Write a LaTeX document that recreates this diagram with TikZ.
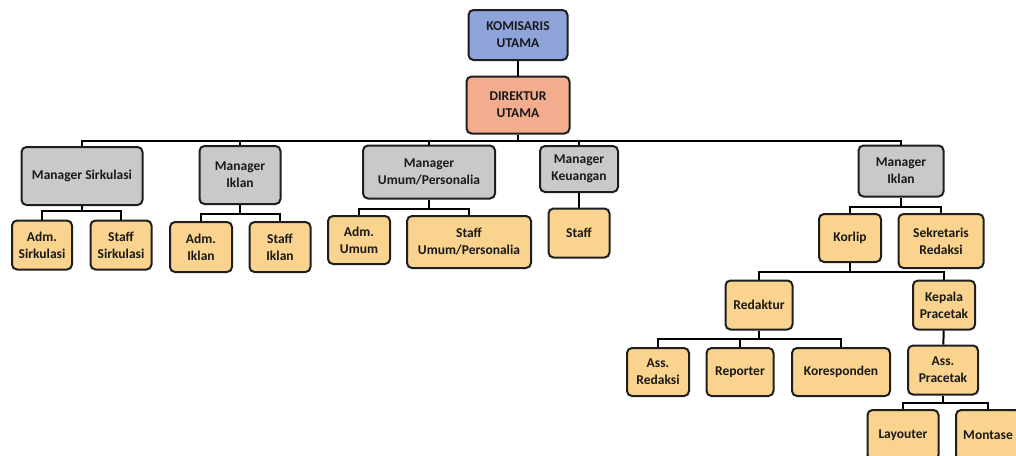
\documentclass[tikz,border=0pt]{standalone}
\usepackage{fontspec}
\setmainfont{Carlito}
\usepackage{tikz}
\usetikzlibrary{calc}
\definecolor{komblue}{HTML}{8EA3DA}
\definecolor{dirsalmon}{HTML}{F4AC8E}
\definecolor{mgrgray}{HTML}{C9C9C9}
\definecolor{stfyellow}{HTML}{FAD38E}
\definecolor{edgedark}{HTML}{1E1E1E}

\begin{document}
\begin{tikzpicture}[x=1pt, y=-1pt,
  every node/.style={inner sep=1.5pt},
  orgbox/.style={draw=edgedark, line width=2pt, rounded corners=5pt, align=center,
    font=\fontsize{13.5}{17}\selectfont\bfseries, text=black!90},
  kom/.style={orgbox, fill=komblue},
  dir/.style={orgbox, fill=dirsalmon},
  mgr/.style={orgbox, fill=mgrgray},
  stf/.style={orgbox, fill=stfyellow},
  link/.style={line width=2pt, draw=black}]
  \fill[white] (0,0) rectangle (1016,455);
  \clip (0,0) rectangle (1016,455);
  \node[kom, minimum width=99pt, minimum height=50pt] (ku) at (518,35) {KOMISARIS\\UTAMA};
  \node[dir, minimum width=103pt, minimum height=57pt] (du) at (518,105) {DIREKTUR\\UTAMA};
  \node[mgr, minimum width=121pt, minimum height=58pt] (ms) at (82,176) {Manager Sirkulasi};
  \node[mgr, minimum width=81pt, minimum height=58pt] (mi) at (240,175) {Manager\\Iklan};
  \node[mgr, minimum width=132pt, minimum height=53pt] (mu) at (429,172) {Manager\\Umum/Personalia};
  \node[mgr, minimum width=78pt, minimum height=46pt] (mk) at (579,169) {Manager\\Keuangan};
  \node[mgr, minimum width=85pt, minimum height=51pt] (mr) at (901,171) {Manager\\Iklan};
  \node[stf, minimum width=60pt, minimum height=49pt] (as) at (42,245) {Adm.\\Sirkulasi};
  \node[stf, minimum width=61pt, minimum height=49pt] (ss) at (121,245) {Staff\\Sirkulasi};
  \node[stf, minimum width=62pt, minimum height=50pt] (ai) at (201,247) {Adm.\\Iklan};
  \node[stf, minimum width=61pt, minimum height=50pt] (si) at (280,247) {Staff\\Iklan};
  \node[stf, minimum width=62pt, minimum height=48pt] (au) at (359,240) {Adm.\\Umum};
  \node[stf, minimum width=124pt, minimum height=52pt] (su) at (469,242) {Staff\\Umum/Personalia};
  \node[stf, minimum width=61pt, minimum height=49pt] (sk) at (579,233) {Staff};
  \node[stf, minimum width=62pt, minimum height=48pt] (ko) at (850,238) {Korlip};
  \node[stf, minimum width=85pt, minimum height=54pt] (sr) at (941,241) {Sekretaris\\Redaksi};
  \node[stf, minimum width=67pt, minimum height=49pt] (re) at (759,305) {Redaktur};
  \node[stf, minimum width=62pt, minimum height=49pt] (kp) at (944,305) {Kepala\\Pracetak};
  \node[stf, minimum width=62pt, minimum height=48pt] (ar) at (658,372) {Ass.\\Redaksi};
  \node[stf, minimum width=67pt, minimum height=48pt] (rp) at (740,372) {Reporter};
  \node[stf, minimum width=98pt, minimum height=48pt] (kr) at (841,372) {Koresponden};
  \node[stf, minimum width=70pt, minimum height=49pt] (ap) at (943,370) {Ass.\\Pracetak};
  \node[stf, minimum width=71pt, minimum height=50pt] (ly) at (903,435) {Layouter};
  \node[stf, minimum width=64pt, minimum height=50pt] (mo) at (988,435) {Montase};
  \coordinate (bDir) at (518,141);
  \coordinate (bMs) at (82,211);
  \coordinate (bMi) at (240,214);
  \coordinate (bMu) at (429,209);
  \coordinate (bMr) at (901,207);
  \coordinate (bKo) at (850,272);
  \coordinate (bRe) at (759,339);
  \coordinate (bAp) at (943,403);
  \draw[link] (ku) -- (du);
  \draw[link] (du) -- (bDir);
  \foreach \m in {ms,mi,mu,mk,mr}
    \draw[link] (bDir) -| (\m.north);
  \draw[link] (ms) -- (bMs) -| (as.north);
  \draw[link] (bMs) -| (ss.north);
  \draw[link] (mi) -- (bMi) -| (ai.north);
  \draw[link] (bMi) -| (si.north);
  \draw[link] (mu) -- (bMu) -| (au.north);
  \draw[link] (bMu) -| (su.north);
  \draw[link] (mk) -- (sk);
  \draw[link] (mr) -- (bMr) -| (ko.north);
  \draw[link] (bMr) -| (sr.north);
  \draw[link] (ko) -- (bKo) -| (re.north);
  \draw[link] (bKo) -| (kp.north);
  \draw[link] (re) -- (bRe) -| (ar.north);
  \draw[link] (bRe) -| (rp.north);
  \draw[link] (bRe) -| (kr.north);
  \draw[link] (kp) -- (ap);
  \draw[link] (ap) -- (bAp) -| (ly.north);
  \draw[link] (bAp) -| (mo.north);
\end{tikzpicture}
\end{document}
